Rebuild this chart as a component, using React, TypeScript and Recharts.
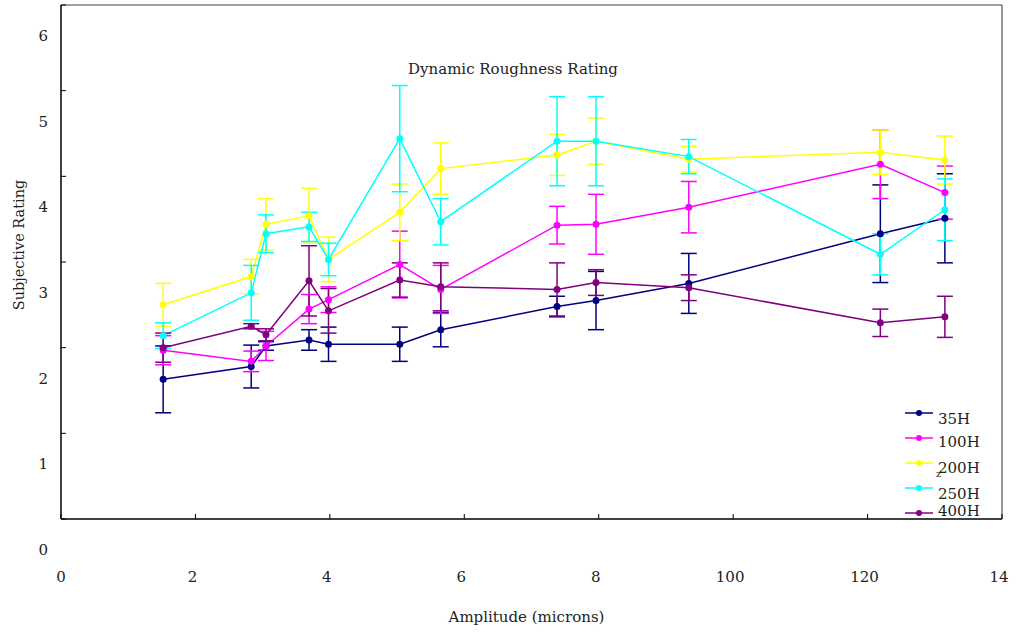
import React from "react";
import {
  ComposedChart,
  Line,
  ErrorBar,
  XAxis,
  YAxis,
  ReferenceLine,
} from "recharts";

// amplitude positions (x) shared by all series
const amplitude = [1.52, 2.83, 3.05, 3.69, 3.98, 5.04, 5.65, 7.38, 7.96, 9.34, 12.19, 13.15];

const h35 = [1.63, 1.78, 2.02, 2.09, 2.04, 2.04, 2.21, 2.48, 2.55, 2.75, 3.33, 3.51];
const h35Err = [0.39, 0.25, 0.05, 0.12, 0.2, 0.2, 0.2, 0.12, 0.34, 0.35, 0.57, 0.52];
const h100 = [1.97, 1.84, 2.02, 2.45, 2.56, 2.97, 2.68, 3.43, 3.44, 3.64, 4.14, 3.81];
const h100Err = [0.17, 0.12, 0.17, 0.17, 0.15, 0.39, 0.28, 0.22, 0.35, 0.3, 0.4, 0.31];
const h200 = [2.5, 2.83, 3.44, 3.54, 3.03, 3.58, 4.09, 4.25, 4.41, 4.2, 4.28, 4.19];
const h200Err = [0.25, 0.2, 0.3, 0.32, 0.26, 0.33, 0.3, 0.24, 0.27, 0.15, 0.26, 0.28];
const h250 = [2.14, 2.64, 3.33, 3.41, 3.03, 4.44, 3.47, 4.41, 4.41, 4.23, 3.09, 3.61];
const h250Err = [0.15, 0.32, 0.22, 0.17, 0.19, 0.62, 0.27, 0.52, 0.52, 0.2, 0.24, 0.36];
const h400 = [2.0, 2.25, 2.15, 2.78, 2.43, 2.79, 2.71, 2.68, 2.76, 2.7, 2.29, 2.36];
const h400Err = [0.17, 0.03, 0.07, 0.41, 0.26, 0.2, 0.28, 0.31, 0.15, 0.15, 0.16, 0.24];

const xTicks = [0, 2, 4, 6, 8, 10, 12, 14];
const xTickLabels = ["0", "2", "4", "6", "8", "100", "120", "14"];
const yTicks = [0, 1, 2, 3, 4, 5, 6];
const yTickLabels = ["0", "1", "2", "3", "4", "5", "6"];

const series = [
  { key: "h35", err: "e35", name: "35H", color: "#000080", values: h35, errors: h35Err },
  { key: "h100", err: "e100", name: "100H", color: "#FF00FF", values: h100, errors: h100Err },
  { key: "h200", err: "e200", name: "200H", color: "#FFFF00", values: h200, errors: h200Err },
  { key: "h250", err: "e250", name: "250H", color: "#00FFFF", values: h250, errors: h250Err },
  { key: "h400", err: "e400", name: "400H", color: "#800080", values: h400, errors: h400Err },
];

const rows = amplitude.map((amp, i) => {
  const row: Record<string, number> = { amp };
  series.forEach((s) => {
    row[s.key] = s.values[i];
    row[s.err] = s.errors[i];
  });
  return row;
});

const FONT = "'DejaVu Serif', serif";

const YTick = (props: any) => {
  const { x, y, payload, index } = props;
  return (
    <g>
      <line x1={x} x2={x + 5} y1={y} y2={y} stroke="#000" />
      <text x={x - 13} y={y + 31} textAnchor="end" dominantBaseline="central" fontFamily={FONT} fontSize={15} fill="#222">
        {yTickLabels[index] ?? payload.value}
      </text>
    </g>
  );
};

const XTick = (props: any) => {
  const { x, y, payload, index } = props;
  return (
    <g>
      <line x1={x} x2={x} y1={y} y2={y - 5} stroke="#000" />
      <text x={index === 0 ? x : x - 3} y={y + 58} textAnchor="middle" dominantBaseline="central" fontFamily={FONT} fontSize={15} fill="#222">
        {xTickLabels[index] ?? payload.value}
      </text>
    </g>
  );
};

// axis titles sit a little off-centre in the original
const YTitle = (props: any) => {
  const { viewBox } = props;
  const cx = viewBox.x + 19;
  const cy = viewBox.y + viewBox.height / 2 - 17;
  return (
    <text x={cx} y={cy} transform={`rotate(-90 ${cx} ${cy})`} textAnchor="middle" dominantBaseline="central" fontFamily={FONT} fontSize={14.5} fill="#222">
      Subjective Rating
    </text>
  );
};

const XTitle = (props: any) => {
  const { viewBox } = props;
  const cx = viewBox.x + viewBox.width / 2 - 5;
  return (
    <text x={cx} y={617} textAnchor="middle" dominantBaseline="central" fontFamily={FONT} fontSize={15} fill="#222">
      Amplitude (microns)
    </text>
  );
};

// legend drawn as an overlay so it does not shrink the plot area
const LegendBox = () => {
  const rowY = [8, 33, 58, 83, 108];
  const textDy = [6, 4, 5, 6, -2];
  return (
    <svg width={110} height={125} style={{ position: "absolute", left: 905, top: 405, overflow: "visible" }}>
      {series.map((s, i) => (
        <g key={s.key}>
          <line x1={0} x2={28} y1={rowY[i]} y2={rowY[i]} stroke={s.color} strokeWidth={1.5} />
          <circle cx={14} cy={rowY[i]} r={3} fill={s.color} />
          <text x={33} y={rowY[i] + textDy[i]} dominantBaseline="central" fontFamily={FONT} fontSize={15} fill="#222">
            {s.name}
          </text>
        </g>
      ))}
      <text x={31} y={72} fontFamily={FONT} fontSize={10} fill="#222">z</text>
    </svg>
  );
};

export default function App() {
  return (
    <div style={{ position: "absolute", left: 0, top: 0, width: 1016, height: 632, background: "#fff" }}>
      <ComposedChart width={1016} height={632} data={rows} margin={{ top: 5, right: 14, bottom: 0, left: 0 }}>
        <XAxis
          dataKey="amp"
          type="number"
          domain={[0, 14]}
          ticks={xTicks}
          height={113}
          axisLine={{ stroke: "#000", strokeWidth: 1.5 }}
          tickLine={false}
          tickSize={0}
          tickMargin={0}
          tick={<XTick />}
          interval={0}
          label={<XTitle />}
        />
        <YAxis
          type="number"
          domain={[0, 6]}
          ticks={yTicks}
          width={61}
          axisLine={{ stroke: "#000", strokeWidth: 1.5 }}
          tickLine={false}
          tickSize={0}
          tickMargin={0}
          tick={<YTick />}
          interval={0}
          label={<YTitle />}
        />
        <ReferenceLine y={6} stroke="#808080" strokeWidth={1.5} />
        <ReferenceLine x={14} stroke="#333" strokeWidth={1} />
        {series.map((s) => (
          <Line
            key={s.key}
            dataKey={s.key}
            name={s.name}
            stroke={s.color}
            strokeWidth={1.5}
            dot={{ r: 3.5, fill: s.color, stroke: s.color, strokeWidth: 0 }}
            activeDot={false}
            isAnimationActive={false}
          >
            <ErrorBar dataKey={s.err} direction="y" width={8} stroke={s.color} strokeWidth={1.5} />
          </Line>
        ))}
      </ComposedChart>
      <div
        style={{
          position: "absolute",
          left: 0,
          width: 1026,
          top: 60,
          textAlign: "center",
          fontFamily: FONT,
          fontSize: 15,
          color: "#222",
        }}
      >
        Dynamic Roughness Rating
      </div>
      <LegendBox />
    </div>
  );
}
